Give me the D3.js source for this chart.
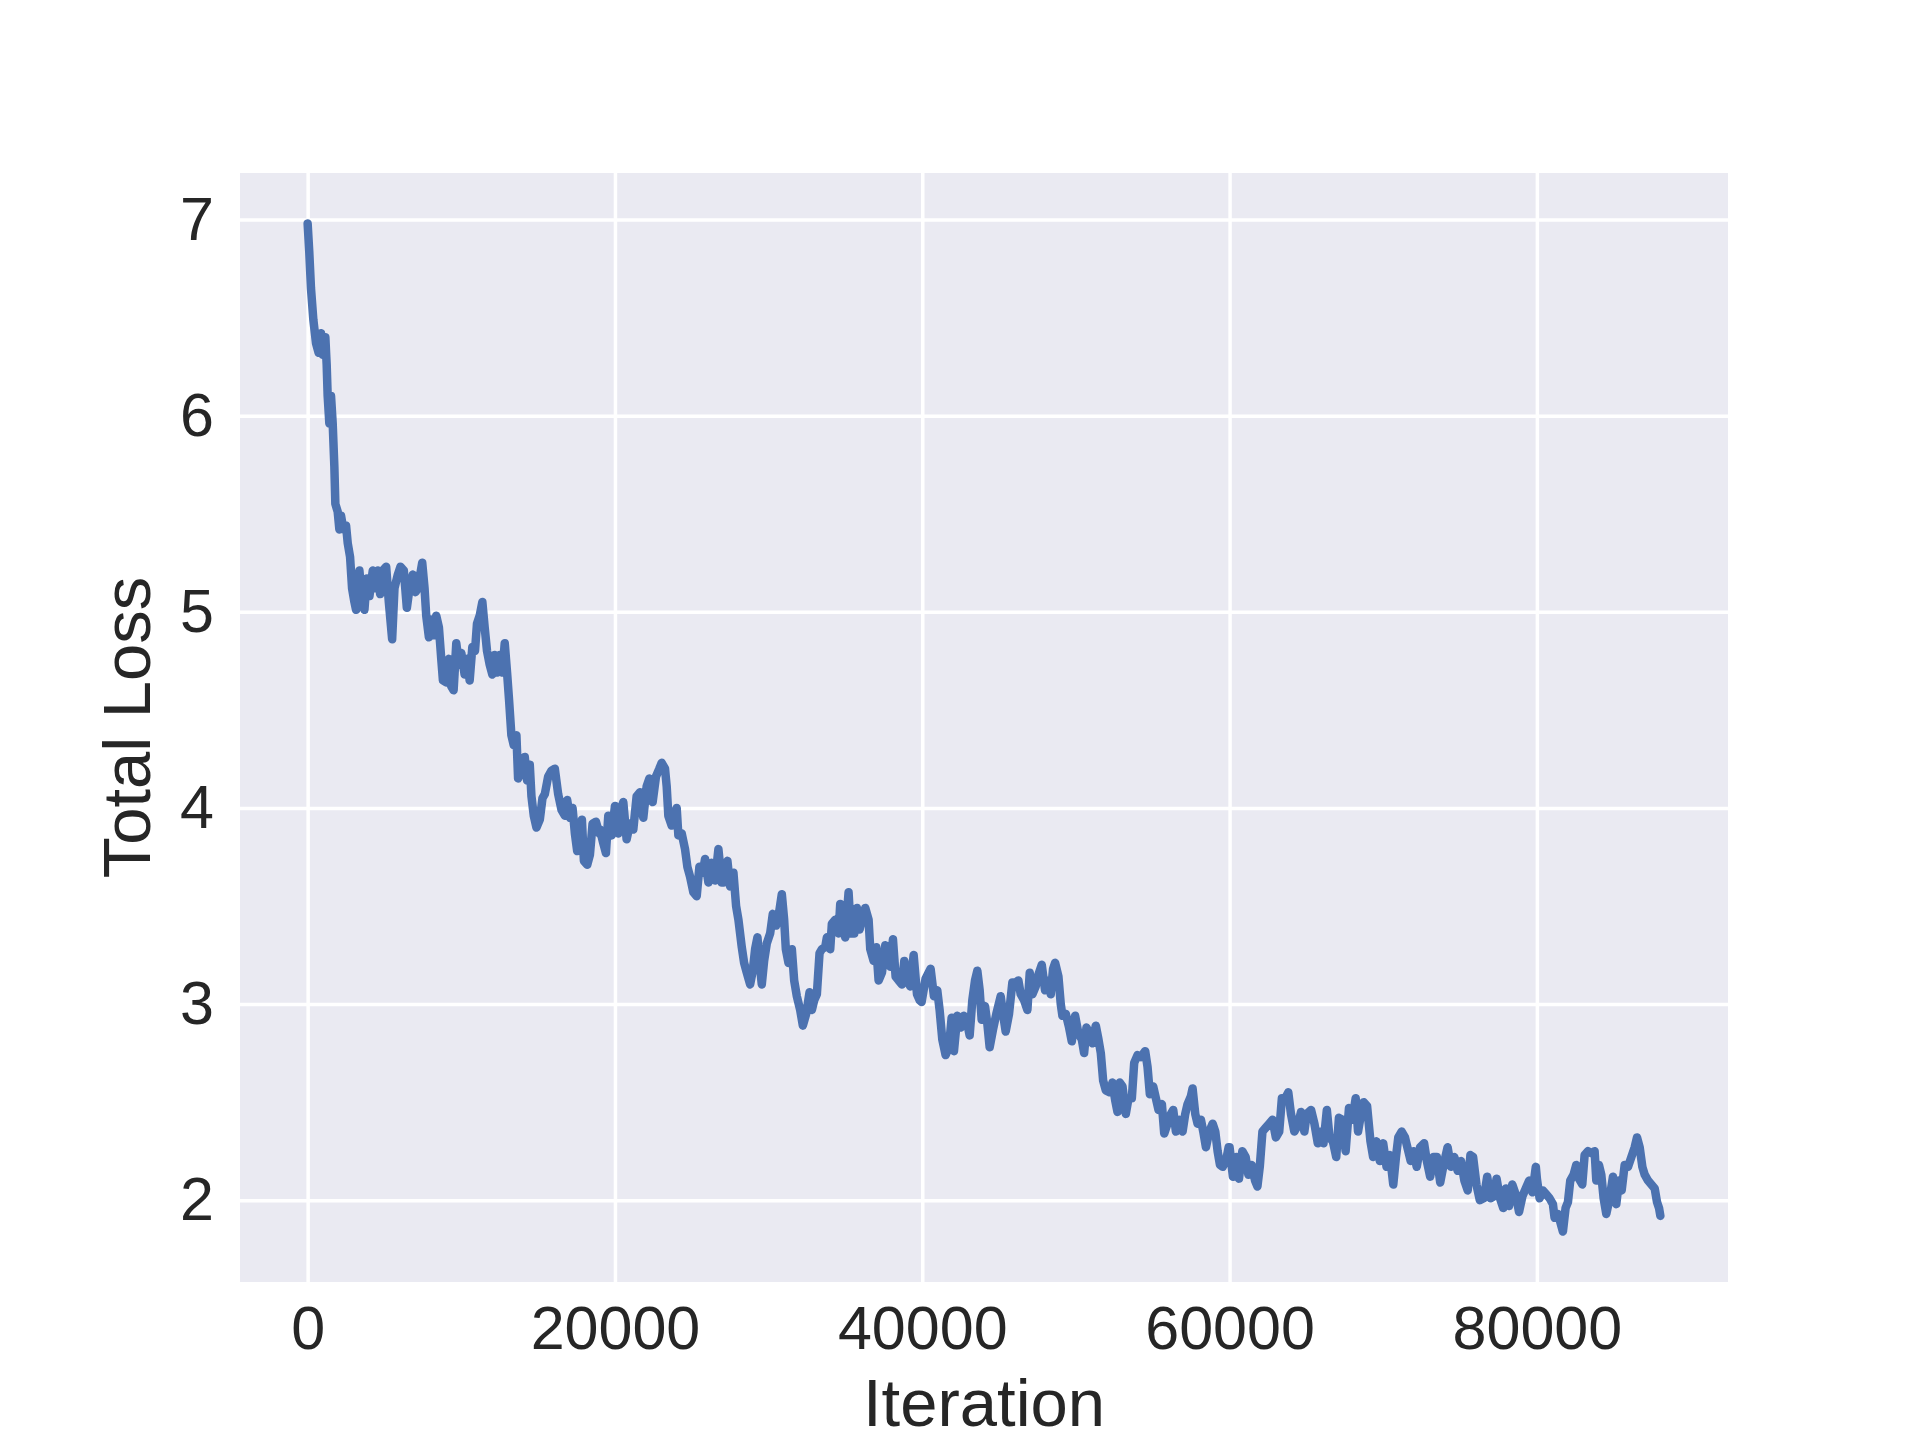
<!DOCTYPE html>
<html>
<head>
<meta charset="utf-8">
<script src="https://cdn.jsdelivr.net/npm/d3@7"></script>
<style>
  body { margin: 0; background: #fff; }
  svg { display: block; }
  text { font-family: "Liberation Sans", Arial, sans-serif; fill: #262626; }
</style>
</head>
<body>
<div id="chart"></div>
<script>
// iteration numbers and loss values
var iterations = [
  0, 109, 217, 370, 544, 717, 870, 978, 1152, 1239, 1304, 1413, 1522, 1631, 1739, 1804, 1957, 2065, 2174, 2326,
  2500, 2609, 2761, 2891, 3044, 3152, 3370, 3544, 3696, 3848, 4022, 4239, 4413, 4565, 4718, 4892, 5109, 5283, 5500, 5652,
  5870, 6044, 6261, 6457, 6631, 6848, 7022, 7174, 7326, 7457, 7609, 7718, 7892, 8044, 8196, 8370, 8544, 8696, 8805, 9022,
  9196, 9348, 9500, 9674, 9848, 10000, 10218, 10392, 10544, 10718, 10892, 11022, 11196, 11370, 11522, 11674, 11848, 12022, 12174, 12327,
  12501, 12674, 12827, 12979, 13109, 13261, 13414, 13588, 13696, 13914, 14131, 14283, 14457, 14566, 14718, 14892, 15109, 15283, 15435, 15653,
  15870, 16088, 16305, 16522, 16740, 16892, 17066, 17240, 17392, 17544, 17718, 17849, 17979, 18196, 18370, 18544, 18762, 18979,
  19023, 19240, 19414, 19566, 19783, 20000, 20217, 20369, 20543, 20760, 20977, 21195, 21412, 21629, 21846, 22063, 22237, 22454, 22672, 22889,
  23041, 23258, 23367, 23475, 23692, 23844, 24018, 24127, 24344, 24561, 24713, 24887, 25104, 25321, 25495, 25712, 25864, 26082, 26299, 26516,
  26733, 26950, 27102, 27320, 27493, 27711, 27884, 28036, 28254, 28406, 28579, 28797, 28970, 29122, 29274, 29405, 29557, 29709, 29883, 30100,
  30274, 30491, 30708, 30860, 31012, 31121, 31294, 31512, 31664, 31837, 32055, 32228, 32446, 32663, 32815, 32967, 33141, 33315, 33466, 33684,
  33792, 34009, 34118, 34335, 34552, 34661, 34835, 34987, 35204, 35356, 35573, 35747, 35921, 36073, 36290, 36507, 36616, 36833, 37007, 37159,
  37376, 37593, 37745, 37919, 38093, 38266, 38462, 38679, 38831, 39005, 39222, 39440, 39657, 39830, 39957,
  40217, 40543, 40760, 40977, 41129, 41303, 41520, 41738, 41911, 42063, 42281, 42498, 42715, 42932, 43084, 43258, 43432, 43584, 43736, 43866,
  44083, 44235, 44387, 44605, 44822, 45104, 45256, 45430, 45647, 45864, 46082, 46255, 46407, 46625, 46842, 46994, 47168, 47385, 47559, 47776,
  47993, 48210, 48362, 48514, 48645, 48862, 49014, 49122, 49340, 49557, 49731, 49948, 50165, 50382, 50534, 50686, 50903, 51077, 51294, 51468,
  51620, 51772, 51946, 52207, 52380, 52554, 52706, 52858, 53032, 53249, 53423, 53640, 53792, 54009, 54227, 54509, 54661, 54813, 55030, 55204,
  55378, 55595, 55747, 55964, 56181, 56334, 56507, 56724, 56942, 57115, 57267, 57485, 57593, 57767, 57919, 58136, 58288, 58462, 58679, 58897,
  59070, 59222, 59374, 59548, 59765, 59939,
  60000, 60218, 60437, 60611, 60830, 61048, 61222, 61441, 61659, 61812, 61965, 62139, 62358, 62576, 62794, 63013, 63231, 63405, 63624, 63820,
  63995, 64213, 64431, 64650, 64868, 65021, 65305, 65523, 65741, 65960, 66112, 66331, 66505, 66724, 66942, 67117, 67335, 67553, 67771, 67990,
  68208, 68361, 68579, 68732, 68950, 69169, 69343, 69562, 69780, 69998, 70216, 70435, 70653, 70828, 70980, 71199, 71417, 71570, 71788, 71963,
  72181, 72399, 72661, 72836, 73054, 73272, 73491, 73709, 73927, 74190, 74408, 74626, 74844, 75063, 75281, 75499, 75674, 75849, 76067, 76285,
  76547, 76765, 76984, 77202, 77377, 77595, 77813, 77988, 78184, 78402, 78621, 78839, 79058, 79276, 79494, 79713, 79931,
  80000, 80174, 80391, 80608, 80825, 81043, 81151, 81368, 81520, 81694, 81868, 82020, 82172, 82389, 82563, 82737, 82954, 83106, 83323, 83540,
  83758, 83866, 84040, 84192, 84344, 84518, 84735, 84952, 85169, 85343, 85517, 85712, 85930, 86147, 86364, 86516, 86690, 86864, 87016, 87233,
  87450, 87668, 87820, 87950, 88036
];

var loss = [
  6.98, 6.83, 6.65, 6.49, 6.37, 6.32, 6.42, 6.31, 6.40, 6.26, 6.10, 5.96, 6.10, 5.96, 5.74, 5.55, 5.51, 5.42, 5.49, 5.42,
  5.44, 5.35, 5.28, 5.12, 5.05, 5.01, 5.21, 5.05, 5.01, 5.17, 5.08, 5.21, 5.12, 5.21, 5.09, 5.21, 5.23, 5.05, 4.86, 5.12,
  5.19, 5.23, 5.21, 5.02, 5.12, 5.19, 5.10, 5.12, 5.19, 5.25, 5.12, 4.98, 4.87, 4.96, 4.88, 4.98, 4.92, 4.76, 4.65, 4.64,
  4.76, 4.62, 4.60, 4.84, 4.73, 4.79, 4.68, 4.76, 4.65, 4.82, 4.80, 4.94, 4.98, 5.05, 4.92, 4.80, 4.73, 4.68, 4.78, 4.69,
  4.78, 4.69, 4.84, 4.69, 4.55, 4.37, 4.32, 4.37, 4.15, 4.19, 4.26, 4.14, 4.22, 4.06, 3.96, 3.90, 3.94, 4.05, 4.07, 4.16,
  4.19, 4.20, 4.07, 3.99, 3.96, 4.04, 3.95, 4.00, 3.87, 3.78, 3.87, 3.94, 3.73, 3.71, 3.76, 3.92, 3.93, 3.87,
  3.89, 3.82, 3.77, 3.96, 3.86, 4.01, 3.87, 3.99, 4.03, 3.84, 3.92, 3.89, 4.06, 4.08, 3.95, 4.11, 4.15, 4.03, 4.16, 4.20,
  4.23, 4.20, 4.11, 3.96, 3.91, 3.97, 4.00, 3.86, 3.87, 3.79, 3.70, 3.65, 3.57, 3.55, 3.70, 3.67, 3.74, 3.62, 3.72, 3.63,
  3.79, 3.62, 3.62, 3.73, 3.60, 3.67, 3.50, 3.43, 3.29, 3.21, 3.16, 3.10, 3.17, 3.28, 3.34, 3.22, 3.10, 3.22, 3.31, 3.36,
  3.46, 3.40, 3.48, 3.56, 3.43, 3.28, 3.21, 3.28, 3.12, 3.04, 2.97, 2.89, 2.95, 3.06, 2.97, 3.02, 3.05, 3.26, 3.28, 3.29,
  3.34, 3.28, 3.41, 3.43, 3.36, 3.51, 3.40, 3.34, 3.57, 3.36, 3.36, 3.49, 3.38, 3.43, 3.49, 3.43, 3.28, 3.22, 3.29, 3.12,
  3.16, 3.30, 3.26, 3.19, 3.33, 3.14, 3.12, 3.10, 3.22, 3.12, 3.09, 3.25, 3.05, 3.02, 3.01,
  3.13, 3.18, 3.04, 3.07, 2.97, 2.82, 2.74, 2.78, 2.93, 2.76, 2.94, 2.88, 2.94, 2.90, 2.84, 3.02, 3.12, 3.17, 3.07, 2.92,
  2.99, 2.90, 2.78, 2.87, 2.95, 3.04, 2.95, 2.86, 2.95, 3.11, 3.11, 3.12, 3.05, 3.02, 2.97, 3.16, 3.05, 3.09, 3.15, 3.20,
  3.07, 3.12, 3.05, 3.18, 3.21, 3.14, 3.00, 2.94, 2.95, 2.88, 2.81, 2.94, 2.85, 2.82, 2.75, 2.88, 2.85, 2.80, 2.89, 2.82,
  2.75, 2.61, 2.56, 2.55, 2.60, 2.51, 2.45, 2.60, 2.58, 2.44, 2.52, 2.52, 2.70, 2.74, 2.73, 2.76, 2.68, 2.54, 2.58, 2.52,
  2.46, 2.49, 2.34, 2.39, 2.44, 2.46, 2.35, 2.41, 2.35, 2.44, 2.49, 2.53, 2.57, 2.44, 2.39, 2.41, 2.35, 2.27, 2.35, 2.39,
  2.35, 2.25, 2.18, 2.17, 2.20, 2.27,
  2.27, 2.12, 2.22, 2.11, 2.25, 2.22, 2.13, 2.18, 2.10, 2.07, 2.17, 2.35, 2.37, 2.39, 2.41, 2.32, 2.35, 2.52, 2.52, 2.55,
  2.44, 2.35, 2.38, 2.45, 2.35, 2.44, 2.46, 2.39, 2.29, 2.35, 2.29, 2.46, 2.32, 2.30, 2.22, 2.42, 2.41, 2.25, 2.47, 2.41,
  2.52, 2.35, 2.45, 2.50, 2.48, 2.30, 2.22, 2.30, 2.20, 2.29, 2.17, 2.23, 2.08, 2.22, 2.32, 2.35, 2.32, 2.27, 2.20, 2.25,
  2.17, 2.27, 2.29, 2.20, 2.12, 2.22, 2.22, 2.09, 2.18, 2.27, 2.17, 2.22, 2.15, 2.20, 2.10, 2.05, 2.23, 2.22, 2.08, 2.00,
  2.01, 2.12, 2.01, 2.02, 2.11, 2.01, 1.96, 2.06, 1.97, 2.08, 2.03, 1.94, 2.02, 2.06, 2.10, 2.04, 2.17,
  2.11, 2.01, 2.05, 2.03, 2.01, 1.98, 1.91, 1.93, 1.89, 1.84, 1.96, 1.99, 2.10, 2.13, 2.18, 2.11, 2.08, 2.23, 2.25, 2.24,
  2.25, 2.10, 2.18, 2.13, 2.01, 1.93, 2.01, 2.12, 1.98, 2.10, 2.05, 2.18, 2.17, 2.22, 2.27, 2.32, 2.27, 2.17, 2.13, 2.10,
  2.08, 2.06, 1.99, 1.96, 1.92
];

var xTicks = [0, 20000, 40000, 60000, 80000];
var yTicks = [2, 3, 4, 5, 6, 7];

var width = 1920, height = 1440;
var plotLeft = 240, plotRight = 1728, plotTop = 173, plotBottom = 1282;

var data = iterations.map(function(d, i) { return {it: d, loss: loss[i]}; });

var svg = d3.select("#chart").append("svg").attr("width", width).attr("height", height);

// matplotlib style 5% margins
var xExt = d3.extent(iterations), yExt = d3.extent(loss);
var xPad = (xExt[1] - xExt[0]) * 0.05, yPad = (yExt[1] - yExt[0]) * 0.05;

var x = d3.scaleLinear().domain([xExt[0] - xPad, xExt[1] + xPad]).range([plotLeft, plotRight]);
var y = d3.scaleLinear().domain([yExt[0] - yPad, yExt[1] + yPad]).range([plotBottom, plotTop]);

svg.append("rect")
    .attr("x", plotLeft).attr("y", plotTop)
    .attr("width", plotRight - plotLeft).attr("height", plotBottom - plotTop)
    .attr("fill", "#eaeaf2");

var xAxis = d3.axisBottom(x).tickValues(xTicks).tickFormat(d3.format("d"))
    .tickSize(-(plotBottom - plotTop)).tickPadding(24);
var yAxis = d3.axisLeft(y).tickValues(yTicks).tickFormat(d3.format("d"))
    .tickSize(-(plotRight - plotLeft)).tickPadding(26);

var gx = svg.append("g").attr("transform", "translate(0," + plotBottom + ")").call(xAxis);
var gy = svg.append("g").attr("transform", "translate(" + plotLeft + ",0)").call(yAxis);

[gx, gy].forEach(function(g) {
  g.select(".domain").remove();
  g.selectAll(".tick line").attr("stroke", "#fff").attr("stroke-width", 3.5);
  g.selectAll(".tick text").style("font-size", "61px").attr("fill", "#262626");
});

var line = d3.line()
    .x(function(d) { return x(d.it); })
    .y(function(d) { return y(d.loss); });

svg.append("path")
    .datum(data)
    .attr("d", line)
    .attr("fill", "none")
    .attr("stroke", "#4c72b0")
    .attr("stroke-width", 8.5)
    .attr("stroke-linejoin", "round")
    .attr("stroke-linecap", "round");

svg.append("text")
    .attr("x", (plotLeft + plotRight) / 2).attr("y", 1426)
    .attr("text-anchor", "middle")
    .style("font-size", "67px")
    .text("Iteration");

svg.append("text")
    .attr("transform", "translate(150," + ((plotTop + plotBottom) / 2) + ") rotate(-90)")
    .attr("text-anchor", "middle")
    .style("font-size", "67px")
    .text("Total Loss");
</script>
</body>
</html>
